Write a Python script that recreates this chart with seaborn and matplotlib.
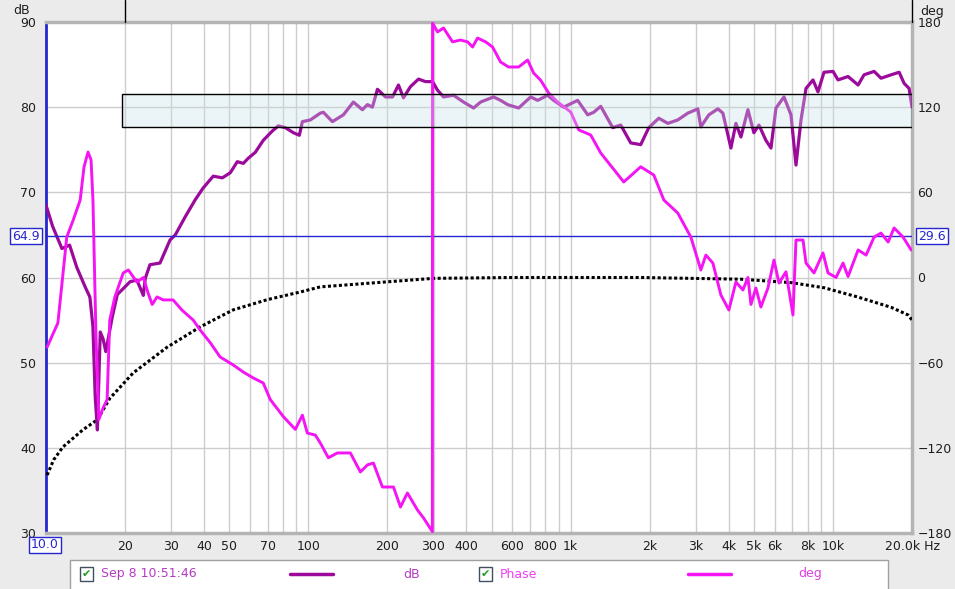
import numpy as np
import pandas as pd
import matplotlib
matplotlib.use("Agg")
import matplotlib.pyplot as plt
import seaborn as sns
from matplotlib.patches import Rectangle
from matplotlib.lines import Line2D

# ---------------- data ----------------
spl_freq = [10.0, 10.6, 11.5, 12.3, 13.1, 14.1, 14.7, 15.1, 15.4, 15.7, 16.1, 16.5, 16.9,
            17.9, 18.7, 20.0, 20.9, 22.2, 23.5, 23.9, 24.9, 27.2, 29.7, 31.1, 33.9, 37.0,
            39.7, 43.4, 47.0, 50.4, 53.6, 56.5, 59.0, 62.8, 67.3, 72.9, 76.8, 81.7, 87.7,
            92.4, 94.9, 101.8, 111.1, 114.1, 123.5, 136.0, 148.5, 160.7, 168.0, 175.5,
            183.4, 196.8, 209.3, 220.6, 230.5, 244.9, 263.0, 279.7, 297.4, 310.7, 327.5,
            357.6, 390.5, 426.4, 453.5, 508.3, 540.5, 574.8, 633.3, 703.7, 748.2, 816.6,
            861.5, 940.3, 1063, 1161, 1224, 1302, 1446, 1552, 1694, 1849, 1985, 2167,
            2346, 2560, 2796, 3052, 3134, 3363, 3640, 3803, 4081, 4264, 4455, 4738, 4992,
            5219, 5549, 5800, 6061, 6502, 6914, 7225, 7550, 7889, 8388, 8763, 9239,
            10000, 10450, 11410, 12460, 13130, 14340, 15240, 16650, 17870, 18660, 19500,
            20000]
spl_db = [68.5, 66.0, 63.4, 63.8, 61.2, 58.9, 57.7, 54.2, 46.0, 42.1, 53.6, 52.8, 51.3,
          55.4, 58.0, 58.9, 59.5, 59.7, 57.9, 59.9, 61.5, 61.7, 64.4, 65.0, 67.1, 69.1,
          70.5, 71.9, 71.7, 72.3, 73.6, 73.4, 74.0, 74.7, 76.1, 77.2, 77.8, 77.6, 77.0,
          76.7, 78.3, 78.5, 79.3, 79.4, 78.3, 79.1, 80.6, 79.7, 80.3, 80.0,
          82.1, 81.2, 81.2, 82.6, 81.1, 82.4, 83.3, 83.0, 83.0, 82.0, 81.2,
          81.4, 80.6, 79.9, 80.6, 81.2, 80.8, 80.3, 79.9, 81.2, 80.8, 81.4,
          80.8, 80.0, 80.8, 79.1, 79.4, 80.1, 77.6, 77.9, 75.8, 75.6, 77.6, 78.7,
          78.1, 78.5, 79.3, 79.8, 77.7, 79.1, 79.8, 79.3, 75.2, 78.1, 76.5, 79.7, 77.0,
          77.9, 76.1, 75.2, 79.9, 81.2, 79.1, 73.2, 78.5, 82.2, 83.2, 81.8, 84.1,
          84.2, 83.2, 83.6, 82.6, 83.8, 84.2, 83.4, 83.8, 84.1, 82.8, 82.2,
          80.0]

phase_freq = [10.1, 11.1, 12.0, 12.7, 13.5, 13.96, 14.46, 14.85, 15.1, 15.5, 15.9, 16.5,
              17.1, 17.5, 18.3, 19.7, 20.6, 22.2, 23.5, 24.5, 25.4, 26.5, 28.0, 30.5,
              33.0, 36.4, 38.7, 42.3, 46.1, 51.7, 56.5, 61.7, 67.3, 71.6, 80.3, 89.2,
              94.9, 99.1, 106.3, 111.1, 119.2, 129.0, 144.6, 157.9, 168.0, 177.0, 191.6,
              211.1, 224.5, 238.6, 260.6, 274.8, 297.0,
              297.5, 310.7, 327.5, 354.5, 380.2, 404.6, 422.7, 441.6, 473.9, 503.9,
              540.5, 579.9, 633.3, 685.4, 722.6, 768.2, 824, 892, 1000, 1073, 1192,
              1302, 1446, 1593, 1740, 1849, 2074, 2265, 2560, 2871, 3134, 3276, 3483,
              3737, 4009, 4264, 4535, 4738, 4866, 5082, 5309, 5649, 5955, 6223, 6617,
              7035, 7225, 7684, 7889, 8462, 9158, 9572, 10268, 10920, 11410, 12460,
              13370, 14340, 15240, 16220, 17090, 18490, 19850]
phase_deg = [-49, -32, 28.5, 40.5, 54.6, 77.8, 88.4, 82.8, 54.6, -40, -100, -92,
             -86, -30, -13.7, 3.2, 5.3, -3.2, 0, -11, -19, -13.7, -15.8, -15.8,
             -23, -30, -37, -46, -56, -61.6, -66.6, -70.8, -74.3, -86, -98, -107,
             -97, -109.6, -111, -116.6, -127, -123.6, -123.6, -137, -132, -130.7, -147.6,
             -147.6, -161.7, -151.8, -163.8, -169.4, -179,
             179.3, 173, 175.8, 166, 167.3, 166, 162.4, 168.7, 166, 162.4,
             151.8, 148.3, 148.3, 153.2, 144, 139, 130, 123.6, 116.6, 104, 100.4,
             87.7, 77.1, 67.3, 73.6, 78, 72.2, 54.6, 45.4, 28.5, 5.3, 15.8, 10.2,
             -12.3, -22.9, -3.2, -8.8, 0, -19, -7.4, -20.8, -7.4, 12.3, -3.9, 4,
             -26.4, 26.4, 26.4, 10.2, 3.2, 17.3, 3.2, 0, 10.2, 0.7, 19.4,
             15.8, 28.5, 31.3, 25, 34.9, 28.5, 19.4]

target_freq = [10.1, 10.7, 11.6, 13.8, 15.7, 17.5, 21.5, 28.9, 38.7, 51.7, 69.8, 93.2,
               111.1, 300, 600, 1849, 4455, 6914, 9239, 12460, 16650, 19330, 20000]
target_db = [36.8, 38.6, 40.1, 42.1, 43.3, 45.8, 48.8, 51.8, 54.2, 56.2, 57.4, 58.3,
             58.9, 59.9, 60.0, 60.0, 59.8, 59.4, 58.8, 57.7, 56.5, 55.6, 55.0]

grid_freqs = [20, 30, 40, 50, 60, 70, 80, 90, 100, 200, 300, 400, 500, 600, 700, 800, 900,
              1000, 2000, 3000, 4000, 5000, 6000, 7000, 8000, 9000, 10000]
label_freqs = [20, 30, 40, 50, 70, 100, 200, 300, 400, 600, 800, 1000, 2000, 3000, 4000,
               5000, 6000, 8000, 10000, 20000]
label_text = ["20", "30", "40", "50", "70", "100", "200", "300", "400", "600", "800", "1k",
              "2k", "3k", "4k", "5k", "6k", "8k", "10k", "20.0k Hz"]

db_ticks = [30, 40, 50, 60, 70, 80, 90]
deg_ticks = [-180, -120, -60, 0, 60, 120, 180]

box_lo_hz, box_hi_hz = 19.5, 20000
box_lo_db, box_hi_db = 77.7, 81.55
cursor_db = 64.9

SPL_COL = "#9c0a9c"
PHASE_COL = "#f414f4"
CURSOR_COL = "#2626d0"

spl = pd.DataFrame({"freq": spl_freq, "db": spl_db})
phase = pd.DataFrame({"freq": phase_freq, "deg": phase_deg})
target = pd.DataFrame({"freq": target_freq, "db": target_db})

# ---------------- figure ----------------
sns.set_style("white")
plt.rcParams['font.family'] = ['DejaVu Sans']

W, H = 955, 589
fig = plt.figure(figsize=(W / 100, H / 100), dpi=100, facecolor="#ebebeb")
ax = fig.add_axes([46 / W, 1 - 533 / H, (912 - 46) / W, (533 - 22) / H])
ax.set_facecolor("white")

ax.set_xscale("log")
ax.set_xlim(10, 20000)
ax.set_ylim(30, 90)

ax.set_xticks(label_freqs)
ax.set_xticklabels(label_text)
ax.set_xticks(grid_freqs, minor=True)
ax.set_yticks(db_ticks)
ax.grid(True, which="both", axis="x", color="#cdcdcd", lw=1)
ax.grid(True, which="major", axis="y", color="#cdcdcd", lw=1)
ax.tick_params(which="both", length=0)
ax.tick_params(axis="x", labelsize=9, pad=5, colors="#1e1e1e")
ax.tick_params(axis="y", labelsize=9, pad=7, colors="#1e1e1e")

for s in ["top", "right", "bottom"]:
    ax.spines[s].set_color("#b4b4b4")
    ax.spines[s].set_linewidth(2.5)
ax.spines["left"].set_color(CURSOR_COL)
ax.spines["left"].set_linewidth(2)

# target curve and SPL
sns.lineplot(data=target, x="freq", y="db", ax=ax, sort=False, estimator=None,
             color="black", lw=2.2, linestyle=(0, (1, 0.8)), zorder=3)
sns.lineplot(data=spl, x="freq", y="db", ax=ax, sort=False, estimator=None,
             color=SPL_COL, lw=2.3, zorder=4)
ax.axhline(cursor_db, color=CURSOR_COL, lw=1, zorder=5)
ax.set_xlabel("")
ax.set_ylabel("")

# phase on a second axis
ax2 = ax.twinx()
ax2.set_ylim(-180, 180)
ax2.set_yticks(deg_ticks)
ax2.tick_params(length=0, labelsize=9, pad=4, colors="#1e1e1e")
for s in ax2.spines.values():
    s.set_visible(False)
sns.lineplot(data=phase, x="freq", y="deg", ax=ax2, sort=False, estimator=None,
             color=PHASE_COL, lw=2.1, zorder=4)
ax2.set_xlabel("")
ax2.set_ylabel("")
ax2.set_xlim(10, 20000)

# target band box, drawn over the curves
ax2.add_patch(Rectangle((box_lo_hz, box_lo_db), box_hi_hz - box_lo_hz, box_hi_db - box_lo_db,
                        transform=ax.transData, facecolor="#c8e0e6", alpha=0.35,
                        edgecolor="none", zorder=6))
ax2.add_patch(Rectangle((box_lo_hz, box_lo_db), box_hi_hz - box_lo_hz, box_hi_db - box_lo_db,
                        transform=ax.transData, facecolor="none",
                        edgecolor="black", lw=1, zorder=7))

# axis unit labels and cursor readouts
fig.text(22 / W, 1 - 11 / H, "dB", ha="center", va="center", fontsize=9, color="#1e1e1e")
fig.text(932 / W, 1 - 11 / H, "deg", ha="center", va="center", fontsize=9, color="#1e1e1e")
box_style = dict(boxstyle="square,pad=0.15", fc="white", ec=CURSOR_COL, lw=1)
fig.text(26 / W, 1 - 236 / H, "64.9", ha="center", va="center", fontsize=9,
         color=CURSOR_COL, bbox=box_style)
fig.text(932 / W, 1 - 236 / H, "29.6", ha="center", va="center", fontsize=9,
         color=CURSOR_COL, bbox=box_style)
fig.text(45 / W, 1 - 545 / H, "10.0", ha="center", va="center", fontsize=9,
         color=CURSOR_COL, bbox=box_style)

# marker lines above the plot
fig.add_artist(Line2D([125 / W, 125 / W], [1 - 22 / H, 1.0], color="black", lw=1))
fig.add_artist(Line2D([912 / W, 912 / W], [1 - 22 / H, 1.0], color="black", lw=1))

# ---------------- legend strip ----------------
fig.add_artist(Rectangle((70 / W, -0.01), 818 / W, (589 - 560) / H + 0.01,
                         transform=fig.transFigure, facecolor="white",
                         edgecolor="#a0a0a0", lw=1))
ly = 1 - 574 / H
for cx in [86.5, 485.5]:
    fig.text(cx / W, ly, "\u2714", ha="center", va="center", fontsize=8, color="#1c9a1c",
             bbox=dict(boxstyle="square,pad=0.15", fc="white", ec="#405060", lw=1))
fig.text(101 / W, ly, "Sep 8 10:51:46", ha="left", va="center", fontsize=9, color="#b43cc4")
fig.add_artist(Line2D([290 / W, 333 / W], [ly, ly], color=SPL_COL, lw=2.5))
fig.text(412 / W, ly, "dB", ha="center", va="center", fontsize=9, color="#b43cc4")
fig.text(500 / W, ly, "Phase", ha="left", va="center", fontsize=9, color="#f040f0")
fig.add_artist(Line2D([688 / W, 731 / W], [ly, ly], color=PHASE_COL, lw=2.5))
fig.text(810 / W, ly, "deg", ha="center", va="center", fontsize=9, color="#e040e0")

fig.savefig("out.png", dpi=100, facecolor=fig.get_facecolor())
